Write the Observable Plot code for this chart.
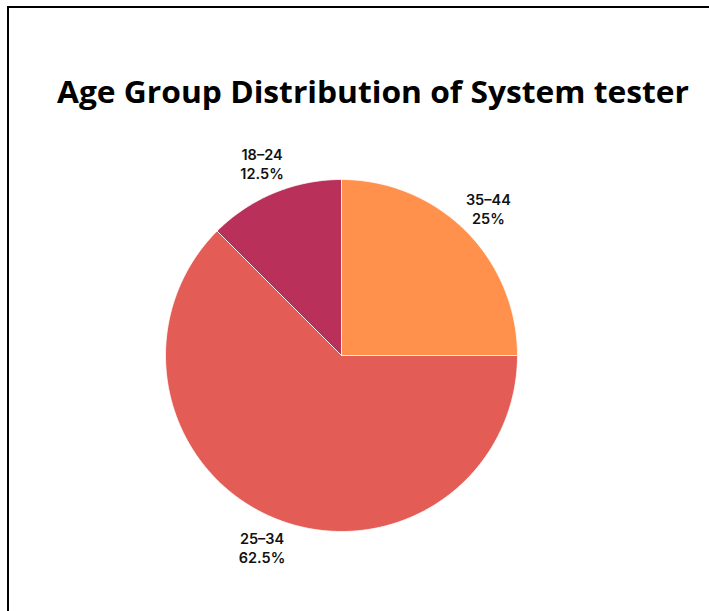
<!DOCTYPE html>
<html>
<head>
<meta charset="utf-8">
<script src="https://cdn.jsdelivr.net/npm/d3@7"></script>
<script src="https://cdn.jsdelivr.net/npm/@observablehq/plot@0.6"></script>
<style>
  html, body { margin: 0; padding: 0; width: 709px; height: 611px; overflow: hidden; background: #fff; }
  #frame { position: absolute; left: 7px; top: 6px; width: 1000px; height: 1000px; border: 2px solid #000; box-sizing: border-box; }
  #title { position: absolute; left: 0; top: 0; width: 709px; height: 130px; }
  #chart { position: absolute; left: 0; top: 0; }
</style>
</head>
<body>
<div id="frame"></div>
<div id="chart"></div>
<svg id="title" width="709" height="130">
  <text x="373" y="103" text-anchor="middle" textLength="632" lengthAdjust="spacingAndGlyphs"
        font-family="Open Sans" font-weight="700" font-size="31" fill="#000">Age Group Distribution of System tester</text>
</svg>
<script>
const categories = ["35–44", "25–34", "18–24"];
const shares = [25, 62.5, 12.5];
const labels = ["25%", "62.5%", "12.5%"];
const colors = ["#FF914D", "#E35D56", "#B9305A"];

// build slice polygons (angles clockwise from 12 o'clock)
const total = d3.sum(shares);
const polys = [];
const labelRows = [];
let start = 0;
shares.forEach((v, i) => {
  const a0 = start, a1 = start + (v / total) * 2 * Math.PI;
  const n = Math.max(2, Math.ceil((a1 - a0) / 0.01));
  polys.push({cat: categories[i], x: 0, y: 0});
  for (let k = 0; k <= n; k++) {
    const a = a0 + (a1 - a0) * k / n;
    polys.push({cat: categories[i], x: Math.sin(a), y: Math.cos(a)});
  }
  polys.push({cat: categories[i], x: 0, y: 0});
  const m = (a0 + a1) / 2;
  labelRows.push({cat: categories[i], text: categories[i] + "\n" + labels[i], x: 1.18 * Math.sin(m), y: 1.18 * Math.cos(m)});
  start = a1;
});

const R = 176, cx = 341, cy = 355, W = 709, H = 611;
const chart = Plot.plot({
  width: W, height: H,
  margin: 0,
  x: {domain: [-cx / R, (W - cx) / R], axis: null},
  y: {domain: [(cy - H) / R, cy / R], axis: null},
  color: {domain: categories, range: colors},
  marks: [
    Plot.line(polys, {x: "x", y: "y", z: "cat", fill: "cat", stroke: "#fff", strokeWidth: 0.8, curve: "linear"}),
    Plot.text(labelRows, {x: "x", y: "y", text: "text", fontSize: 14.5, fontWeight: 600, fill: "#111", lineHeight: 1.3, fontFamily: "Inter"})
  ],
  style: {background: "transparent", fontFamily: "Inter"}
});
document.getElementById("chart").appendChild(chart);
</script>
</body>
</html>
